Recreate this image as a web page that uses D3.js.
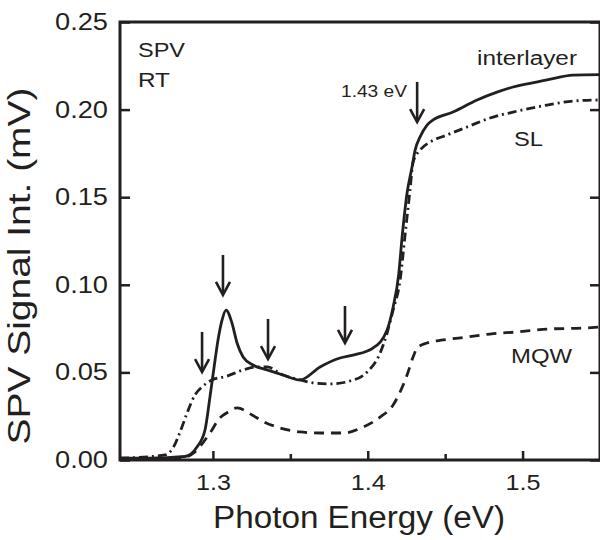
<!DOCTYPE html>
<html>
<head>
<meta charset="utf-8">
<script src="https://cdn.jsdelivr.net/npm/d3@7"></script>
<style>
  html, body { margin: 0; padding: 0; background: #fff; }
  svg { display: block; }
  text { font-family: "Liberation Sans", Arial, sans-serif; fill: #231f20; }
</style>
</head>
<body>
<svg id="chart" width="600" height="540"></svg>
<script>
// ---------- data ----------
const xTickValues = [1.3, 1.4, 1.5];
const xTickLabels = ["1.3", "1.4", "1.5"];
const xMinorTicks = [1.35, 1.45];
const yTickValues = [0.00, 0.05, 0.10, 0.15, 0.20, 0.25];
const yTickLabels = ["0.00", "0.05", "0.10", "0.15", "0.20", "0.25"];

const interlayerE = [1.240, 1.259, 1.282, 1.2897, 1.2949, 1.2981, 1.3014, 1.3033, 1.3059, 1.3085, 1.3123, 1.3156, 1.3195, 1.3259, 1.335, 1.3453, 1.3563, 1.3692, 1.3821, 1.3905, 1.4034, 1.4125, 1.4164, 1.4200, 1.4222, 1.4254, 1.4286, 1.4306, 1.4338, 1.4383, 1.4422, 1.4551, 1.4706, 1.4835, 1.4939, 1.5158, 1.5326, 1.550];
const interlayerV = [0.001, 0.001, 0.002, 0.0074, 0.0171, 0.036, 0.0571, 0.0685, 0.0799, 0.0856, 0.0782, 0.0668, 0.0588, 0.0542, 0.0514, 0.0485, 0.0457, 0.0531, 0.0582, 0.0599, 0.0639, 0.0742, 0.0873, 0.106, 0.1273, 0.1524, 0.1672, 0.1769, 0.1844, 0.1912, 0.1941, 0.1986, 0.2055, 0.210, 0.2129, 0.2169, 0.2197, 0.2200];

const slE = [1.240, 1.2691, 1.2742, 1.2788, 1.2833, 1.2884, 1.2936, 1.2994, 1.3091, 1.3195, 1.3285, 1.335, 1.3453, 1.3563, 1.3647, 1.3757, 1.3886, 1.3996, 1.408, 1.4125, 1.4164, 1.4209, 1.4241, 1.4273, 1.4293, 1.4338, 1.4403, 1.4512, 1.4642, 1.4790, 1.4939, 1.5158, 1.5326, 1.550];
const slV = [0.001, 0.0029, 0.0068, 0.016, 0.0268, 0.0371, 0.0422, 0.0457, 0.0479, 0.0514, 0.0531, 0.0531, 0.0485, 0.0457, 0.044, 0.0434, 0.0451, 0.0502, 0.0611, 0.0725, 0.0856, 0.1027, 0.1284, 0.1541, 0.1701, 0.1769, 0.1815, 0.1855, 0.1901, 0.1952, 0.1986, 0.2026, 0.2049, 0.2055];

const mqwE = [1.240, 1.2788, 1.2884, 1.2949, 1.2994, 1.3033, 1.3098, 1.3156, 1.3253, 1.3317, 1.3434, 1.3563, 1.3692, 1.3841, 1.397, 1.408, 1.4164, 1.4209, 1.4254, 1.4293, 1.4319, 1.4383, 1.4487, 1.4642, 1.479, 1.4965, 1.5178, 1.5391, 1.550];
const mqwV = [0.0006, 0.001, 0.0046, 0.0114, 0.0171, 0.0228, 0.0274, 0.0297, 0.0257, 0.0223, 0.0183, 0.016, 0.0154, 0.0154, 0.0188, 0.0245, 0.0314, 0.0388, 0.0485, 0.0588, 0.0639, 0.0668, 0.0685, 0.0702, 0.0719, 0.0731, 0.0748, 0.0753, 0.0759];

// arrows: energy position, tail value, tip value
const arrowE   = [1.293, 1.3065, 1.3356, 1.3853, 1.4319];
const arrowTop = [0.0731, 0.117, 0.0805, 0.0879, 0.2158];
const arrowTip = [0.0502, 0.0942, 0.0576, 0.0668, 0.1929];

// ---------- drawing ----------
const ink = "#231f20";
const svg = d3.select("#chart");
const x = d3.scaleLinear().domain([1.24, 1.55]).range([120, 600]);
const y = d3.scaleLinear().domain([0, 0.25]).range([460, 22]);

function stretch(sel, w) {
  sel.attr("textLength", w).attr("lengthAdjust", "spacingAndGlyphs");
}

// frame
svg.append("rect")
  .attr("x", x(1.24)).attr("y", y(0.25))
  .attr("width", x(1.55) - x(1.24)).attr("height", y(0) - y(0.25))
  .attr("fill", "none").attr("stroke", ink).attr("stroke-width", 3);

// bottom axis
const xAxis = d3.axisBottom(x).tickValues(xTickValues)
  .tickFormat((d, i) => xTickLabels[i]).tickSizeInner(-9).tickSizeOuter(0).tickPadding(14);
const gx = svg.append("g").attr("transform", `translate(0,${y(0)})`).call(xAxis);
gx.select(".domain").remove();
gx.selectAll(".tick line").attr("stroke", ink).attr("stroke-width", 2.5);
gx.selectAll(".tick text").attr("font-size", 22).attr("fill", ink)
  .attr("font-family", "Liberation Sans, Arial, sans-serif")
  .each(function () { stretch(d3.select(this), 35); });

const xAxisMinor = d3.axisBottom(x).tickValues(xMinorTicks).tickFormat("").tickSizeInner(-6).tickSizeOuter(0);
const gxm = svg.append("g").attr("transform", `translate(0,${y(0)})`).call(xAxisMinor);
gxm.select(".domain").remove();
gxm.selectAll(".tick line").attr("stroke", ink).attr("stroke-width", 2.5);

// left axis
const yAxis = d3.axisLeft(y).tickValues(yTickValues)
  .tickFormat((d, i) => yTickLabels[i]).tickSizeInner(-10).tickSizeOuter(0).tickPadding(12);
const gy = svg.append("g").attr("transform", `translate(${x(1.24)},0)`).call(yAxis);
gy.select(".domain").remove();
gy.selectAll(".tick line").attr("stroke", ink).attr("stroke-width", 2.5);
gy.selectAll(".tick text").attr("font-size", 23.5).attr("fill", ink)
  .attr("font-family", "Liberation Sans, Arial, sans-serif")
  .each(function () { stretch(d3.select(this), 53); });

// right axis (mirror ticks)
const yAxisR = d3.axisRight(y).tickValues(yTickValues).tickFormat("").tickSizeInner(-10).tickSizeOuter(0);
const gyr = svg.append("g").attr("transform", `translate(${x(1.55)},0)`).call(yAxisR);
gyr.select(".domain").remove();
gyr.selectAll(".tick line").attr("stroke", ink).attr("stroke-width", 2.5);

// curves
const line = d3.line().x(d => x(d[0])).y(d => y(d[1])).curve(d3.curveMonotoneX);
const zipS = (e, v) => e.map((d, i) => [d, v[i]]);

svg.append("path").datum(zipS(mqwE, mqwV)).attr("d", line)
  .attr("fill", "none").attr("stroke", ink).attr("stroke-width", 2.8)
  .attr("stroke-dasharray", "10,7");
svg.append("path").datum(zipS(slE, slV)).attr("d", line)
  .attr("fill", "none").attr("stroke", ink).attr("stroke-width", 2.8)
  .attr("stroke-dasharray", "9,4,2,4");
svg.append("path").datum(zipS(interlayerE, interlayerV)).attr("d", line)
  .attr("fill", "none").attr("stroke", ink).attr("stroke-width", 2.8);

// arrows
const ag = svg.append("g").attr("stroke", ink).attr("stroke-width", 2.6).attr("fill", "none");
arrowE.forEach((e, i) => {
  const ax = x(e), y0 = y(arrowTop[i]), y1 = y(arrowTip[i]);
  ag.append("line").attr("x1", ax).attr("x2", ax).attr("y1", y0).attr("y2", y1 - 1);
  ag.append("path").attr("d", `M${ax - 7},${y1 - 13} L${ax},${y1} L${ax + 7},${y1 - 13}`)
    .attr("stroke-linejoin", "miter");
});

// text labels
function label(txt, px, py, size, w) {
  const t = svg.append("text").attr("x", px).attr("y", py).attr("font-size", size).text(txt);
  stretch(t, w);
  return t;
}
label("SPV", 138, 57, 19.5, 47);
label("RT", 138, 87, 19.5, 32);
label("interlayer", 477, 65, 20, 100);
label("1.43 eV", 341, 97, 16.5, 66);
label("SL", 514, 146, 19.5, 29);
label("MQW", 511, 363, 20, 61);

// axis titles
label("Photon Energy (eV)", 213, 528, 31, 292);
svg.append("text")
  .attr("transform", "translate(30,266) rotate(-90)")
  .attr("text-anchor", "middle").attr("font-size", 31)
  .attr("textLength", 357).attr("lengthAdjust", "spacingAndGlyphs")
  .text("SPV Signal Int. (mV)");
</script>
</body>
</html>
